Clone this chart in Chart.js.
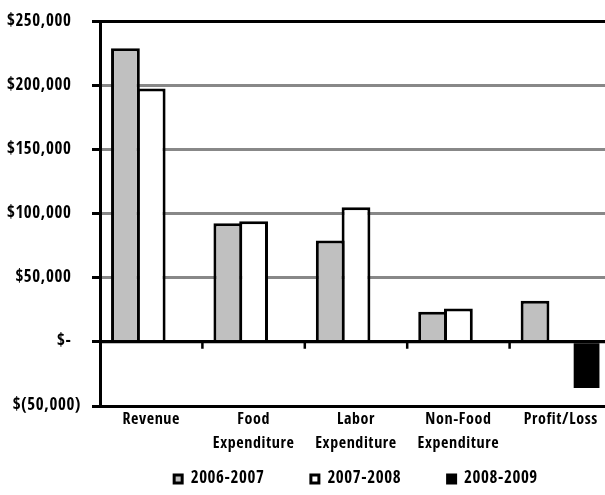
<!DOCTYPE html>
<html>
<head>
<meta charset="utf-8">
<script src="https://cdn.jsdelivr.net/npm/chart.js@4/dist/chart.umd.min.js"></script>
<style>
  html, body { margin: 0; padding: 0; background: #fff; overflow: hidden; }
  canvas { display: block; }
</style>
</head>
<body>
<canvas id="c" width="612" height="495"></canvas>
<script>
// Categories and yearly values (US dollars)
const categories = ['Revenue', ['Food', 'Expenditure'], ['Labor', 'Expenditure'], ['Non-Food', 'Expenditure'], 'Profit/Loss'];
const seriesNames = ['2006-2007', '2007-2008', '2008-2009'];
const values0607 = [229000, 92500, 79000, 23500, 32000];
const values0708 = [197500, 94000, 105000, 26000, null];
const values0809 = [null, null, null, null, -36000];

// Value axis ticks and their accounting-style labels
const yTickValues = [-50000, 0, 50000, 100000, 150000, 200000, 250000];
const yTickLabels = ['$(50,000)', '$-', '$50,000', '$100,000', '$150,000', '$200,000', '$250,000'];

const FONT = "'Open Sans Condensed', 'DejaVu Sans Condensed', sans-serif";
Chart.defaults.font.family = FONT;
Chart.defaults.font.weight = 'bold';
Chart.defaults.color = '#000';

const LEGEND_PAD = 46.5;     // gap between legend entries
const LEGEND_TEXT_Y = 479;   // vertical centre of the legend row
const LEGEND_FONT = 17;

const setSpacing = (chart) => { chart.ctx.letterSpacing = '0.6px'; };

// Condensed lettering, zero line with category tick marks, legend placed under the plot
const chartDecor = {
  id: 'chartDecor',
  beforeInit: setSpacing,
  beforeUpdate: setSpacing,
  beforeDraw: setSpacing,
  beforeLayout(chart) {
    setSpacing(chart);
    const lg = chart.legend;
    if (lg && !lg.__compactFit) {
      const fit = lg.fit;
      lg.fit = function () { fit.call(this); this.height = 40; };
      lg.__compactFit = true;
    }
  },
  afterLayout(chart) {
    const lg = chart.legend, area = chart.chartArea;
    if (!lg) return;
    lg.left = area.left;
    lg.right = area.right;
    lg.width = area.right - area.left;
    lg.top = LEGEND_TEXT_Y - LEGEND_PAD - LEGEND_FONT / 2;
    lg.bottom = chart.height;
    lg.height = lg.bottom - lg.top;
  },
  afterDatasetsDraw(chart) {
    const { ctx, chartArea: area, scales: { x, y } } = chart;
    const y0 = y.getPixelForValue(0);
    ctx.save();
    ctx.strokeStyle = '#000';
    ctx.lineWidth = 3;
    ctx.beginPath();
    ctx.moveTo(area.left, y0);
    ctx.lineTo(area.right, y0);
    ctx.stroke();
    ctx.lineWidth = 2.5;
    ctx.beginPath();
    for (let i = 1; i < categories.length; i++) {
      const xb = (x.getPixelForTick(i - 1) + x.getPixelForTick(i)) / 2;
      ctx.moveTo(xb, y0);
      ctx.lineTo(xb, y0 + 7);
    }
    ctx.stroke();
    ctx.restore();
  }
};

new Chart(document.getElementById('c'), {
  type: 'bar',
  data: {
    labels: categories,
    datasets: [
      { label: seriesNames[0], data: values0607, backgroundColor: '#c0c0c0', borderColor: '#000', borderWidth: 3, barPercentage: 1.117 },
      { label: seriesNames[1], data: values0708, backgroundColor: '#ffffff', borderColor: '#000', borderWidth: 3, barPercentage: 1.117 },
      { label: seriesNames[2], data: values0809, backgroundColor: '#000000', borderColor: '#000', borderWidth: 0, barPercentage: 1.0 }
    ]
  },
  options: {
    responsive: false,
    animation: false,
    devicePixelRatio: 1,
    layout: { padding: { top: 18, right: 0, bottom: 0, left: 0 } },
    datasets: { bar: { categoryPercentage: 0.755, borderSkipped: 'start' } },
    plugins: {
      tooltip: { enabled: false },
      legend: {
        position: 'bottom',
        labels: {
          boxWidth: 8,
          boxHeight: 8,
          padding: LEGEND_PAD,
          color: '#000',
          font: { size: LEGEND_FONT, weight: 'bold' },
          generateLabels(chart) {
            const items = Chart.defaults.plugins.legend.labels.generateLabels(chart);
            items.forEach(it => { it.lineWidth = 3; it.strokeStyle = '#000'; });
            return items;
          }
        }
      }
    },
    scales: {
      x: {
        grid: { display: false },
        border: { display: false },
        ticks: {
          padding: -6,
          maxRotation: 0,
          autoSkip: false,
          color: '#000',
          font: { size: 16, weight: 'bold', lineHeight: 1.5 }
        },
        afterFit(scale) { scale.height = 49; }
      },
      y: {
        min: -50000,
        max: 250000,
        afterBuildTicks(scale) { scale.ticks = yTickValues.map(v => ({ value: v })); },
        grid: {
          color: (c) => (c.tick && [250000, 0, -50000].includes(c.tick.value)) ? '#000' : '#888888',
          lineWidth: 3,
          tickColor: '#000',
          tickWidth: 3,
          tickLength: 8
        },
        border: { display: true, color: '#000', width: 3 },
        ticks: {
          padding: 11,
          color: '#000',
          font: { size: 17, weight: 'bold' },
          callback(value) {
            const s = yTickLabels[yTickValues.indexOf(value)];
            return s.endsWith(')') ? s : s + '  ';
          }
        },
        afterFit(scale) { scale.width = 100; }
      }
    }
  },
  plugins: [chartDecor]
});
</script>
</body>
</html>
